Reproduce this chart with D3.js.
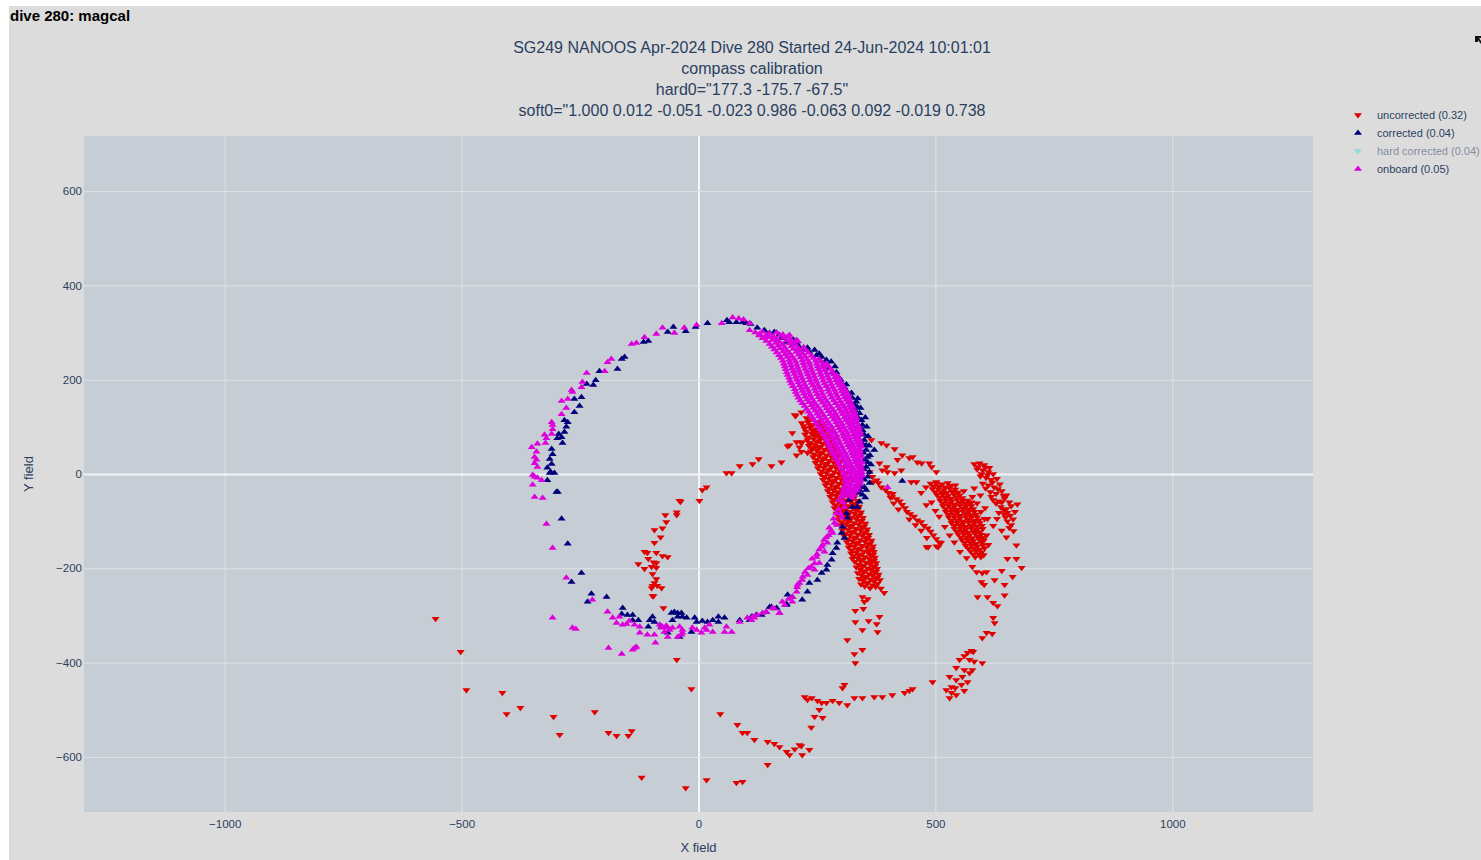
<!DOCTYPE html>
<html><head><meta charset="utf-8">
<script src="https://cdn.jsdelivr.net/npm/d3@7"></script>
<style>body{margin:0;background:#fff;}svg{display:block;}</style>
</head><body>
<script>
// ---------- DATA ----------
const pageLabel = "dive 280: magcal";
const titleLines = [
  "SG249 NANOOS Apr-2024 Dive 280 Started 24-Jun-2024 10:01:01",
  "compass calibration",
  "hard0=\"177.3 -175.7 -67.5\"",
  "soft0=\"1.000 0.012 -0.051 -0.023 0.986 -0.063 0.092 -0.019 0.738"
];
const xTicks = [-1000, -500, 0, 500, 1000];
const yTicks = [-600, -400, -200, 0, 200, 400, 600];
const xTitle = "X field", yTitle = "Y field";
const seriesNames = ["uncorrected (0.32)", "corrected (0.04)", "hard corrected (0.04)", "onboard (0.05)"];

const uncorrected = [
[-555,-307],[-502,-377],[-490,-458],[-414,-464],[-405,-509],[-376,-496],[-306,-515],[-293,-553],[-219,-505],[-190,-549],[-173,-555],[-148,-555],[-141,-545],[-120,-644],[-27,-666],[17,-649],[80,-655],[93,-653],[-46,-394],[-15,-456],[46,-509],[82,-532],[93,-549],[103,-549],[118,-564],[146,-568],[160,-572],[171,-579],[186,-589],[192,-596],[146,-617],[-74,-284],[-95,-259],
[-40,-57],[2,-57],[-70,-87],[-46,-81],[-46,-87],[-68,-102],[-93,-119],[-76,-115],[-80,-134],[-93,-146],[-114,-165],[-108,-167],[-89,-167],[-76,-174],[-65,-176],[-106,-180],[-95,-187],[-89,-189],[-127,-191],[-114,-201],[-99,-197],[-89,-199],[-97,-212],[-89,-223],[-93,-231],[-87,-237],[-78,-242],[-97,-237],[-99,-242],[-97,-259],
[59,2],[70,2],[87,17],[114,21],[127,32],[154,17],[175,25],[8,-34],[17,-28],[-38,-59],
[203,125],[217,131],[205,123],[228,119],[234,114],[241,104],[249,108],[198,87],[192,61],[207,68],[217,66],[245,87],[255,78],[266,76],[188,59],[213,57],[219,68],[234,66],[245,57],[207,40],[217,47],[230,45],
[218,108],[231,110],[257,109],
[222,102],[236,104],[262,103],
[224,96],[236,98],[249,94],[261,97],[273,93],
[227,90],[241,92],[254,88],[267,91],[278,87],
[225,84],[239,86],[251,82],[264,85],[276,81],
[231,78],[245,80],[258,76],[270,79],[282,75],
[230,72],[243,74],[255,70],[268,73],[280,69],
[235,66],[249,68],[262,64],[274,67],[286,63],
[233,60],[246,62],[258,58],[271,61],[283,57],
[239,54],[253,56],[266,52],[278,55],[290,51],
[237,48],[250,50],[262,46],[275,49],[287,45],
[244,42],[257,44],[270,40],[283,43],[295,39],
[242,36],[254,38],[267,34],[280,37],[292,33],
[249,30],[262,32],[275,28],[288,31],[299,27],
[247,24],[259,26],[272,22],[285,25],[297,21],
[254,18],[267,20],[280,16],[293,19],[304,15],
[252,12],[264,14],[277,10],[290,13],[302,9],
[260,6],[273,8],[286,4],[299,7],[310,3],
[258,0],[270,2],[283,-2],[296,1],[308,-3],
[265,-6],[278,-4],[291,-8],[304,-5],[315,-9],
[263,-12],[275,-10],[288,-14],[301,-11],[313,-15],
[270,-18],[283,-16],[296,-20],[309,-17],[320,-21],
[268,-24],[280,-22],[293,-26],[306,-23],[318,-27],
[275,-30],[288,-28],[301,-32],[314,-29],[325,-33],
[273,-36],[285,-34],[298,-38],[311,-35],[323,-39],
[280,-42],[293,-40],[306,-44],[319,-41],[330,-45],
[278,-48],[290,-46],[303,-50],[316,-47],[328,-51],
[285,-54],[298,-52],[311,-56],[324,-53],[335,-57],
[283,-60],[295,-58],[308,-62],[321,-59],[333,-63],
[289,-66],[302,-64],[315,-68],[328,-65],[339,-69],
[287,-72],[299,-70],[312,-74],[325,-71],[337,-75],
[293,-78],[306,-76],[319,-80],[332,-77],[343,-81],
[291,-84],[303,-82],[316,-86],[329,-83],[341,-87],
[297,-90],[310,-88],[323,-92],[336,-89],[347,-93],
[295,-96],[307,-94],[320,-98],[333,-95],[345,-99],
[302,-102],[315,-100],[328,-104],[341,-101],[352,-105],
[300,-108],[312,-106],[325,-110],[338,-107],[350,-111],
[306,-114],[319,-112],[332,-116],[345,-113],[356,-117],
[304,-120],[316,-118],[329,-122],[342,-119],[354,-123],
[310,-126],[323,-124],[336,-128],[349,-125],[360,-129],
[308,-132],[320,-130],[333,-134],[346,-131],[358,-135],
[315,-138],[328,-136],[341,-140],[354,-137],[365,-141],
[313,-144],[325,-142],[338,-146],[351,-143],[363,-147],
[319,-150],[332,-148],[345,-152],[358,-149],[368,-153],
[317,-156],[329,-154],[342,-158],[355,-155],[367,-159],
[323,-162],[336,-160],[349,-164],[361,-161],[370,-165],
[322,-168],[333,-166],[345,-170],[358,-167],[369,-171],
[327,-174],[339,-172],[351,-176],[364,-173],[372,-177],
[325,-180],[336,-178],[347,-182],[360,-179],[371,-183],
[330,-186],[342,-184],[354,-188],[366,-185],[375,-189],
[338,-192],[349,-194],[362,-191],[373,-195],
[333,-198],[345,-196],[357,-200],[369,-197],[377,-201],
[341,-202],[352,-206],[364,-203],[375,-207],
[336,-210],[348,-208],[360,-212],[372,-209],[380,-213],
[344,-214],[355,-218],[367,-215],[378,-219],
[339,-222],[351,-220],[363,-224],[375,-221],[383,-225],
[347,-226],[358,-230],[370,-227],
[343,-234],[355,-232],[367,-236],[378,-233],
[351,-238],[362,-242],[374,-239],[385,-243],
[392,-252],[346,-261],[357,-265],[350,-271],[331,-290],[348,-286],[382,-303],[331,-314],[359,-312],[376,-318],[346,-331],[378,-335],[314,-352],[346,-373],[329,-382],[331,-401],
[365,72],[386,66],[397,61],[414,53],[420,30],[430,40],[445,34],[452,36],[462,25],[471,23],[487,23],[502,4],[492,15],[388,8],[399,4],[382,23],[397,15],[414,2],[361,4],[367,-6],[376,-13],[428,8],[449,-17],[460,-17],[502,-17],[481,-66],[409,-49],
[369,-17],[380,-19],[386,-28],[395,-34],[401,-40],[410,-42],[405,-50],[418,-53],[425,-58],[412,-62],[430,-65],[436,-72],[422,-75],[440,-80],[447,-85],[455,-90],[445,-96],[462,-98],[470,-102],[458,-108],[476,-110],[484,-115],[470,-120],[490,-122],[496,-130],[482,-135],[502,-138],[508,-145],[485,-155],[506,-155],[512,-146],
[490,-20],[502,-20],[514,-22],[526,-19],
[496,-26],[508,-26],[520,-28],[532,-25],
[494,-32],[506,-32],[518,-34],[530,-31],[542,-33],
[500,-38],[512,-38],[524,-40],[536,-37],[548,-39],
[503,-44],[515,-44],[527,-46],[539,-43],[551,-45],
[509,-50],[521,-50],[533,-52],[545,-49],[557,-51],
[510,-56],[522,-56],[534,-58],[546,-55],[558,-57],[568,-56],
[516,-62],[528,-62],[540,-64],[552,-61],[564,-63],[574,-62],
[516,-68],[528,-68],[540,-70],[552,-67],[564,-69],[576,-68],
[522,-74],[534,-74],[546,-76],[558,-73],[570,-75],[580,-74],
[522,-80],[534,-80],[546,-82],[558,-79],[570,-81],[582,-80],
[528,-86],[540,-86],[552,-88],[564,-85],[576,-87],[586,-86],
[528,-92],[540,-92],[552,-94],[564,-91],[576,-93],[588,-92],
[534,-98],[546,-98],[558,-100],[570,-97],[582,-99],[592,-98],
[534,-104],[546,-104],[558,-106],[570,-103],[582,-105],[594,-104],
[540,-110],[552,-110],[564,-112],[576,-109],[588,-111],[598,-110],
[540,-116],[552,-116],[564,-118],[576,-115],[588,-117],[600,-116],
[546,-122],[558,-122],[570,-124],[582,-121],[594,-123],
[548,-128],[560,-128],[572,-130],[584,-127],[596,-129],
[554,-134],[566,-134],[578,-136],[590,-133],[600,-135],
[556,-140],[568,-140],[580,-142],[592,-139],[602,-141],
[562,-146],[574,-146],[586,-148],[598,-145],
[564,-152],[576,-152],[588,-154],[600,-151],
[570,-158],[582,-158],[594,-160],[604,-157],
[574,-164],[586,-164],[598,-166],
[580,-170],[592,-170],[602,-172],
[584,-176],[596,-176],
[480,-28],[470,-40],[492,-60],[500,-78],[508,-90],[520,-112],[530,-130],[540,-145],[552,-165],[566,-178],[608,-130],[612,-150],[604,-95],[596,-80],[588,-62],[578,-48],[560,-36],[542,-24],
[481,-155],[502,-153],[578,-197],[587,-208],[599,-210],[608,-208],[597,-229],[603,-235],[589,-261],[610,-261],[622,-273],[631,-280],[622,-305],[625,-316],[608,-337],[620,-339],[599,-348],
[582,21],[593,23],[603,19],[614,13],[588,10],[600,8],[612,4],[622,0],[595,-5],[607,-8],[618,-12],[630,-10],[600,-20],[612,-24],[624,-28],[636,-22],[616,-38],[628,-42],[640,-36],[650,-45],[622,-55],[634,-58],[646,-52],[656,-60],[638,-70],[650,-74],[660,-68],[673,-64],[645,-85],[658,-88],[668,-80],[630,-95],[652,-100],[664,-96],[656,-114],[665,-121],[650,-134],[671,-151],[640,-120],[622,-110],[610,-95],[605,-72],[595,-45],[582,-30],[576,-60],[600,-140],[652,-180],[671,-180],[682,-199],[663,-218],[646,-235],[646,-257],[625,-225],[640,-205],
[590,15],[605,14],[597,0],[610,-2],[620,-18],[606,-30],[632,-32],[618,-48],[644,-46],[628,-62],[640,-60],[652,-82],[644,-76],[660,-108],[634,-82],[648,-92],
[576,-375],[580,-377],[568,-379],[561,-386],[551,-394],[572,-394],[582,-398],[599,-401],[544,-411],[561,-416],[578,-416],[572,-422],[530,-430],[544,-437],[557,-430],[568,-441],[534,-452],[542,-454],[555,-447],[561,-460],[523,-458],[534,-464],[544,-469],[530,-475],[494,-441],[452,-456],[445,-460],[435,-464],[409,-469],[388,-473],[371,-473],[346,-475],[329,-475],
[224,-473],[230,-479],[239,-475],[251,-481],[260,-485],[270,-485],[283,-481],[297,-485],[314,-490],[304,-454],[308,-447],[255,-500],[245,-515],[238,-538],[213,-575],[234,-585],[219,-596],[203,-584],[217,-577],[262,-517]
];

const corrected = [
[19,320],[-6,312],[-27,303],[-53,312],[-65,301],[-106,282],[-116,280],[-156,248],[-162,244],[-171,223],[-209,218],[-217,199],[-222,189],[-236,191],[-247,163],[-262,159],[-251,144],[-262,131],[-283,114],[-276,110],[-279,100],[-283,89],[-295,85],[-289,78],[-298,76],[-287,66],[-310,53],[-308,42],[-314,32],[-310,21],[-319,13],[-312,4],[-304,2],[-314,2],[-319,-13],[-300,-38],[-297,-38],[-289,-95],[-276,-148],
[65,322],[80,322],[93,322],[101,320],[124,310],[139,305],[150,299],[160,301],[175,288],[186,280],[196,280],[207,278],[213,269],[224,263],[234,259],[245,263],[249,252],[260,248],[270,242],[266,231],[276,225],[283,216],[291,216],[302,193],[308,184],[314,174],[323,172],[325,161],[333,153],[335,142],[340,129],[344,114],[346,104],[346,93],[350,83],[350,72],[354,61],[354,51],[357,36],[357,25],[354,15],[361,4],[357,-6],[361,-19],[354,-34],[346,-44],[340,-59],[335,-70],
[296,205],[288,228],[255,255],[230,268],[318,165],[328,148],[330,135],[338,118],[340,98],[342,85],[345,66],[348,45],[350,30],[349,10],[350,-12],[345,-28],[338,-40],[371,51],[430,-15],[60,326],[110,318],[170,295],[200,285],[280,238],[300,200],[312,190],[336,160],[342,140],[352,120],[355,100],[358,80],[360,60],[362,40],[364,20],[352,-50],
[333,-13],[346,-6],[350,-28],[340,-34],[325,-49],[318,-55],[325,-70],[312,-83],[314,-93],[304,-112],[302,-125],[308,-136],[293,-146],[291,-157],[283,-168],[281,-182],[272,-193],[270,-203],[260,-210],[251,-225],[234,-231],[230,-250],[219,-267],[198,-261],[186,-276],[154,-282],[143,-293],[122,-299],[112,-303],
[-247,-210],[-268,-229],[-226,-254],[-234,-271],[-194,-261],[-160,-284],[-162,-297],[-150,-299],[-139,-299],[-127,-310],[-139,-310],[-103,-310],[-97,-303],[-93,-314],[-106,-324],[-78,-324],[-65,-337],[-57,-295],[-51,-293],[-44,-295],[-36,-295],[-34,-303],[-25,-305],[-55,-310],[-44,-303],[-8,-305],[-4,-314],[8,-312],[19,-314],[30,-310],[42,-303],[55,-305],[42,-314],[-15,-335],[-40,-346],[87,-310],[108,-310],[114,-303],[133,-299],[150,-282],[165,-284],[186,-278],[188,-256]
];

const hardCorrected = []; // legend-only trace, no marks shown

const onboard = [
[-76,310],[-89,297],[-51,299],[-30,310],[-4,316],[-114,290],[-131,278],[-141,276],[-184,244],[-192,237],[-198,218],[-236,214],[-245,195],[-247,184],[-268,178],[-266,174],[-289,155],[-276,159],[-279,140],[-289,127],[-310,110],[-308,104],[-308,95],[-325,83],[-310,85],[-321,76],[-323,66],[-340,64],[-352,57],[-342,47],[-346,36],[-342,30],[-346,23],[-340,15],[-350,-2],[-346,-6],[-340,-8],[-331,-13],[-350,-23],[-329,-51],[-346,-49],
[-321,-106],[-308,-157],[-279,-220],[-308,-305],[-266,-326],[-259,-329],[-224,-267],[-192,-292],[-181,-305],[-167,-303],[-173,-316],[-160,-320],[-152,-318],[-135,-320],[-124,-324],[-146,-312],[-124,-337],[-108,-341],[-93,-341],[-91,-358],[-131,-367],[-135,-369],[-190,-369],[-162,-382],[-139,-373],[-82,-320],[-76,-324],[-68,-322],[-78,-326],[-65,-326],[-72,-335],[-61,-331],[-55,-326],[-40,-324],[-34,-331],[-36,-341],[-44,-346],[-65,-346],[-34,-337],[-13,-326],[-4,-331],[6,-337],[13,-326],[23,-320],[17,-331],[30,-335],[55,-335],[70,-335],[59,-324],[87,-314],[103,-305],[114,-303],[124,-299],[143,-293],[160,-286],[171,-295],[198,-271],[209,-235],
[312,-40],[297,-55],[308,-70],[291,-83],[302,-93],[287,-104],[276,-114],[283,-125],[270,-134],[272,-146],[260,-155],[266,-165],[249,-176],[255,-189],[238,-197],[245,-203],[230,-214],[219,-225],[213,-231],[207,-250],[198,-261],[177,-271],[171,-295],[156,-284],[135,-295],[118,-305],[112,-310],
[305,-60],[295,-75],[300,-85],[285,-95],[292,-108],[280,-120],[275,-130],[265,-140],[262,-150],[255,-160],[250,-170],[240,-180],[245,-190],[232,-200],[225,-208],[220,-218],[208,-240],[190,-265],[182,-278],[399,-28],
[72,332],[85,330],[95,328],[108,320],[49,320],[108,305],[129,297],[143,290],[156,284],[192,295],[207,284],
[120,300],[135,302],[150,298],[165,300],[178,296],
[128,294],[143,295],[158,292],[172,294],[187,291],
[135,288],[150,290],[165,286],[180,289],[195,285],
[143,282],[157,284],[171,280],[186,283],[200,279],[210,281],
[150,276],[163,278],[178,274],[192,277],[206,273],
[155,270],[168,272],[182,268],[196,271],[210,267],[222,269],
[160,264],[172,266],[186,262],[200,265],[214,261],[226,263],
[165,258],[178,260],[192,256],[206,259],[220,255],[232,257],
[170,252],[183,254],[197,250],[211,253],[225,249],[238,251],
[174,246],[187,248],[201,244],[215,247],[229,243],[243,246],[254,244],
[178,240],[191,242],[205,238],[219,241],[233,237],[247,240],[259,238],
[180,234],[193,236],[207,232],[221,235],[235,231],[249,234],[262,232],[270,234],
[182,228],[195,230],[209,226],[223,229],[237,225],[251,228],[264,226],[274,229],
[184,222],[197,224],[211,220],[225,223],[239,219],[253,222],[266,220],[279,223],
[186,216],[200,218],[214,214],[228,217],[242,213],[256,216],[270,214],[282,217],
[188,210],[202,212],[216,208],[230,211],[244,207],[258,210],[272,208],[285,211],[292,209],
[191,204],[205,206],[219,202],[233,205],[247,201],[261,204],[275,202],[288,205],[297,203],
[193,198],[207,200],[221,196],[235,199],[249,195],[263,198],[277,196],[290,199],[299,197],
[196,192],[210,194],[224,190],[238,193],[252,189],[266,192],[280,190],[293,193],[303,190],
[199,186],[213,188],[227,184],[241,187],[255,183],[269,186],[283,184],[296,187],[306,185],
[203,180],[217,182],[231,178],[245,181],[259,177],[273,180],[287,178],[300,181],[310,178],
[205,174],[219,176],[233,172],[247,175],[261,171],[275,174],[289,172],[302,175],[313,173],
[208,168],[222,170],[236,166],[250,169],[264,165],[278,168],[292,166],[305,169],[316,167],
[211,162],[225,164],[239,160],[253,163],[267,159],[281,162],[295,160],[308,163],[318,161],
[215,156],[229,158],[243,154],[257,157],[271,153],[285,156],[299,154],[311,157],[320,155],
[219,150],[233,152],[247,148],[261,151],[275,147],[289,150],[303,148],[315,151],[322,149],
[224,144],[238,146],[252,142],[266,145],[280,141],[294,144],[307,142],[318,145],[325,143],
[228,138],[242,140],[256,136],[270,139],[284,135],[297,138],[310,136],[320,139],[327,137],
[232,132],[246,134],[260,130],[274,133],[288,129],[301,132],[313,130],[323,133],[329,131],
[236,126],[250,128],[264,124],[278,127],[291,123],[304,126],[316,124],[326,127],[331,125],
[240,120],[254,122],[268,118],[282,121],[295,117],[308,120],[319,118],[328,121],[333,119],
[244,114],[258,116],[272,112],[286,115],[299,111],[311,114],[322,112],[331,115],
[248,108],[262,110],[276,106],[290,109],[303,105],[315,108],[325,106],[334,109],
[252,102],[266,104],[280,100],[293,103],[306,99],[318,102],[328,100],[337,103],
[256,96],[270,98],[284,94],[297,97],[310,93],[321,96],[331,94],[339,97],
[260,90],[274,92],[287,88],[300,91],[313,87],[324,90],[334,88],[340,91],
[264,84],[278,86],[291,82],[304,85],[316,81],[327,84],[336,82],[342,85],
[267,78],[280,80],[293,76],[306,79],[318,75],[329,78],[338,76],
[270,72],[283,74],[296,70],[309,73],[321,69],[332,72],[341,70],
[273,66],[286,68],[299,64],[312,67],[324,63],[334,66],[342,64],
[276,60],[289,62],[302,58],[315,61],[327,57],[337,60],[344,58],
[279,54],[292,56],[305,52],[318,55],[330,51],[339,54],
[282,48],[295,50],[308,46],[321,49],[332,45],[341,48],
[285,42],[298,44],[311,40],[323,43],[334,39],[342,42],
[288,36],[301,38],[314,34],[326,37],[336,33],[344,36],
[291,30],[304,32],[317,28],[329,31],[339,27],
[295,24],[308,26],[320,22],[331,25],[341,21],[346,24],
[298,18],[311,20],[323,16],[334,19],[343,15],
[302,12],[314,14],[326,10],[336,13],[344,9],
[305,6],[317,8],[329,4],[338,7],[345,3],
[308,0],[320,2],[331,-2],[340,1],[346,-3],
[309,-6],[321,-4],[332,-8],[341,-5],
[310,-12],[322,-10],[333,-14],[342,-11],
[312,-18],[324,-16],[335,-20],[341,-17],
[310,-24],[322,-22],[332,-26],[340,-23],
[308,-30],[320,-28],[330,-32],[337,-29],
[306,-36],[318,-34],[328,-38],[334,-35],
[305,-42],[317,-40],[327,-44],
[303,-48],[315,-46],[325,-50]
];

// ---------- RENDER ----------
const W = 1481, H = 860;
const font = "'Liberation Sans', Arial, Helvetica, sans-serif";
const txtCol = "#2a3f5f";
const svg = d3.select("body").append("svg").attr("width", W).attr("height", H);
svg.append("rect").attr("x", 0).attr("y", 0).attr("width", W).attr("height", H).attr("fill", "#fff");
svg.append("rect").attr("x", 9).attr("y", 6).attr("width", W - 9).attr("height", H - 6).attr("fill", "#dcdcdc");

svg.append("text").attr("x", 10).attr("y", 21).text(pageLabel)
  .attr("font-family", font).attr("font-weight", "bold")
  .attr("font-size", 15).attr("fill", "#000");

// small corner icon
svg.append("path").attr("d", "M1475,36 L1481,36 L1481,38 L1479,38 L1481,41 L1481,44 L1478,40 L1478,42 L1475,42 Z").attr("fill", "#111");

const plot = {l: 84, r: 1313, t: 136, b: 812};
const x = d3.scaleLinear().domain([-1297, 1297]).range([plot.l, plot.r]);
const y = d3.scaleLinear().domain([-717, 717]).range([plot.b, plot.t]);

svg.append("rect").attr("x", plot.l).attr("y", plot.t).attr("width", plot.r - plot.l).attr("height", plot.b - plot.t).attr("fill", "#c6cdd5");

// grid + axes
const fmt = d => d < 0 ? "\u2212" + Math.abs(d) : String(d);
const gx = svg.append("g").attr("transform", `translate(0,${plot.b})`)
  .call(d3.axisBottom(x).tickValues(xTicks).tickSize(-(plot.b - plot.t)).tickFormat(fmt).tickPadding(8));
const gy = svg.append("g").attr("transform", `translate(${plot.l},0)`)
  .call(d3.axisLeft(y).tickValues(yTicks).tickSize(-(plot.r - plot.l)).tickFormat(fmt).tickPadding(2));
[gx, gy].forEach(g => {
  g.select(".domain").remove();
  g.selectAll(".tick line").attr("stroke", d => d === 0 ? "#f4f5f7" : "#e1e4e8").attr("stroke-width", d => d === 0 ? 2 : 1);
  g.selectAll(".tick text").attr("fill", txtCol).attr("font-family", font).attr("font-size", 11.5);
});

// markers
function tri(r, up) {
  const rt = r * 2 / Math.sqrt(3), r2 = r / 2;
  return up ? `M${-rt},${r2}H${rt}L0,${-r}Z` : `M${-rt},${-r2}H${rt}L0,${r}Z`;
}
const series = [
  {name: seriesNames[0], data: uncorrected, color: "#e00000", up: false, visible: true},
  {name: seriesNames[1], data: corrected, color: "#00007a", up: true, visible: true},
  {name: seriesNames[2], data: hardCorrected, color: "#40e0d0", up: false, visible: false},
  {name: seriesNames[3], data: onboard, color: "#dd00dd", up: true, visible: true}
];
svg.append("clipPath").attr("id", "pc").append("rect")
  .attr("x", plot.l).attr("y", plot.t).attr("width", plot.r - plot.l).attr("height", plot.b - plot.t);
const marks = svg.append("g").attr("clip-path", "url(#pc)");
series.filter(s => s.visible).forEach(s => {
  marks.append("g").selectAll("path").data(s.data).join("path")
    .attr("d", tri(3.5, s.up))
    .attr("transform", d => `translate(${x(d[0])},${y(d[1])})`)
    .attr("fill", s.color);
});

// titles
const tg = svg.append("g").attr("font-family", font).attr("font-size", 16).attr("fill", txtCol).attr("text-anchor", "middle");
titleLines.forEach((t, i) => tg.append("text").attr("x", 752).attr("y", 53 + i * 21).text(t));

svg.append("text").attr("x", (plot.l + plot.r) / 2).attr("y", 852).attr("text-anchor", "middle")
  .attr("font-family", font).attr("font-size", 13).attr("fill", txtCol).text(xTitle);
svg.append("text").attr("transform", `translate(33,${(plot.t + plot.b) / 2}) rotate(-90)`).attr("text-anchor", "middle")
  .attr("font-family", font).attr("font-size", 13).attr("fill", txtCol).text(yTitle);

// legend
const lg = svg.append("g").attr("font-family", font).attr("font-size", 11);
series.forEach((s, i) => {
  const row = lg.append("g").attr("transform", `translate(1358,${115 + i * 18})`).attr("opacity", s.visible ? 1 : 0.5);
  row.append("path").attr("d", tri(3.5, s.up)).attr("fill", s.color);
  row.append("text").attr("x", 19).attr("y", 0).attr("dy", "0.35em").attr("fill", txtCol).text(s.name);
});
</script>
</body></html>
